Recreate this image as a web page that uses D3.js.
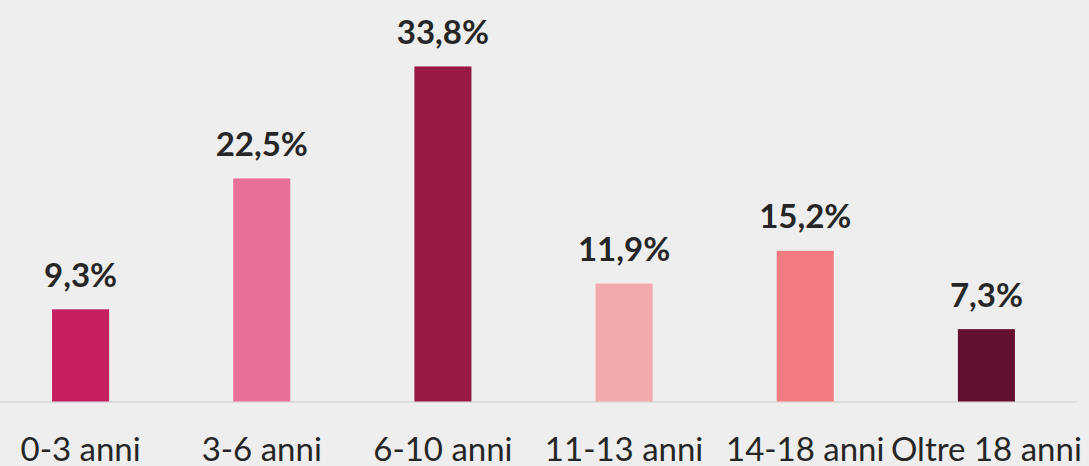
<!DOCTYPE html>
<html>
<head>
<meta charset="utf-8">
<script src="https://cdn.jsdelivr.net/npm/d3@7"></script>
<style>
  html, body { margin: 0; padding: 0; background: #edeeed; }
  #chart { width: 1089px; height: 466px; }
</style>
</head>
<body>
<div id="chart"></div>
<script>
// dati
const categories = ['0-3 anni', '3-6 anni', '6-10 anni', '11-13 anni', '14-18 anni', 'Oltre 18 anni'];
const values = [9.3, 22.5, 33.8, 11.9, 15.2, 7.3];
const colors = ['#c61f60', '#e96f9b', '#981846', '#f4a9ad', '#f07c82', '#620f30'];

const width = 1089;
const height = 466;

const svg = d3.select('#chart')
    .append('svg')
    .attr('width', width)
    .attr('height', height);

svg.append('rect')
    .attr('width', width)
    .attr('height', height)
    .attr('fill', '#edeeed');

const x = d3.scaleBand()
    .domain(categories)
    .range([-10, 1077])
    .paddingInner(0.685)
    .paddingOuter(0.3425);

const y = d3.scaleLinear()
    .domain([0, 40])
    .range([401.5, 5]);

// asse
svg.append('line')
    .attr('x1', 0)
    .attr('x2', 1077)
    .attr('y1', 402)
    .attr('y2', 402)
    .attr('stroke', '#d9d9d9')
    .attr('stroke-width', 1.5);

// barre
svg.selectAll('rect.bar')
    .data(values)
    .enter()
    .append('rect')
    .attr('class', 'bar')
    .attr('x', (d, i) => x(categories[i]))
    .attr('y', d => y(d))
    .attr('width', x.bandwidth())
    .attr('height', d => y(0) - y(d))
    .attr('fill', (d, i) => colors[i]);

// etichette valori
svg.selectAll('text.val')
    .data(values)
    .enter()
    .append('text')
    .attr('class', 'val')
    .attr('x', (d, i) => x(categories[i]) + x.bandwidth() / 2)
    .attr('y', d => y(d) - 22.5)
    .attr('text-anchor', 'middle')
    .attr('fill', '#262626')
    .attr('font-family', 'Lato, "Open Sans", sans-serif')
    .attr('font-weight', 'bold')
    .attr('font-size', '33px')
    .text(d => d.toFixed(1).replace('.', ',') + '%');

// etichette categorie
svg.selectAll('text.cat')
    .data(categories)
    .enter()
    .append('text')
    .attr('class', 'cat')
    .attr('x', d => x(d) + x.bandwidth() / 2)
    .attr('y', 461)
    .attr('text-anchor', 'middle')
    .attr('fill', '#262626')
    .attr('font-family', 'Lato, "Open Sans", sans-serif')
    .attr('font-size', '33px')
    .text(d => d);
</script>
</body>
</html>
